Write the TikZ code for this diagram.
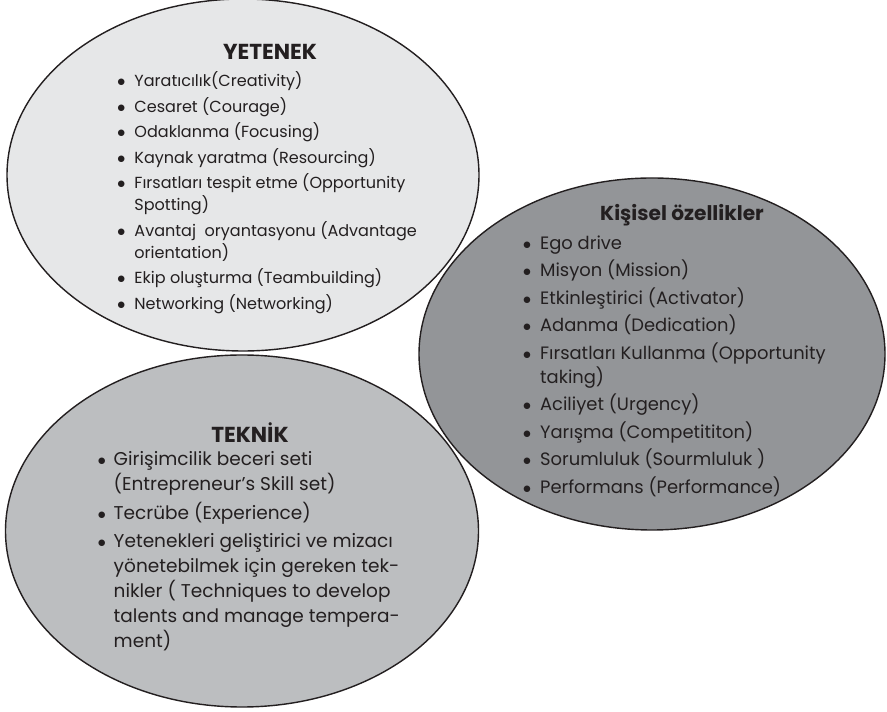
\documentclass[tikz,border=0pt]{standalone}
\usepackage{fontspec}
\setmainfont{Poppins}
\usetikzlibrary{shapes}
\definecolor{inkgray}{HTML}{231F20}
\definecolor{talentgray}{HTML}{E6E7E8}
\definecolor{techgray}{HTML}{BCBEC0}
\definecolor{traitgray}{HTML}{939598}

\begin{document}
\begin{tikzpicture}[font=\fontsize{13.7}{18.8}\selectfont, text=inkgray,
  blob/.style={ellipse, draw=inkgray, line width=1.2pt, inner sep=0pt, minimum width=14.16cm, minimum height=10.56cm},
  heading/.style={font=\fontsize{18.5}{20}\selectfont\bfseries},
  list/.style={anchor=north west, inner sep=0pt}]
\useasboundingbox (0,0) rectangle (26.61cm, 21.36cm);
%\fill[white] (0,0) rectangle (26.61cm, 21.36cm);
\node[blob, fill=talentgray] (talent) at (7.29cm, 16.11cm) {};
\node[blob, fill=traitgray, minimum width=13.98cm] (trait) at (19.56cm, 10.74cm) {};
\node[blob, fill=techgray, minimum width=14.19cm] (tech) at (7.26cm, 5.43cm) {};

\node[heading] (talenthead) at (8.1cm, 19.8cm) {YETENEK};
\node[list] (talentlist) at (3.51cm, 19.23cm) {\begin{tabular}{@{}l@{\hspace{7.5pt}}l@{}}
$\bullet$ & Yaratıcılık(Creativity)\\[3pt]
$\bullet$ & Cesaret (Courage)\\[3pt]
$\bullet$ & Odaklanma (Focusing)\\[3pt]
$\bullet$ & Kaynak yaratma (Resourcing)\\[3pt]
$\bullet$ & Fırsatları tespit etme (Opportunity\\
 & Spotting)\\[3pt]
$\bullet$ & Avantaj~ oryantasyonu (Advantage\\
 & orientation)\\[3pt]
$\bullet$ & Ekip oluşturma (Teambuilding)\\[3pt]
$\bullet$ & Networking (Networking)
\end{tabular}};

\node[heading, font=\fontsize{17.2}{20}\selectfont\bfseries] (traithead) at (20.46cm, 14.91cm) {Kişisel özellikler};
\node[list, font=\fontsize{15.3}{20.5}\selectfont] (traitlist) at (15.68cm, 14.4cm) {\begin{tabular}{@{}l@{\hspace{7.5pt}}l@{}}
$\bullet$ & Ego drive\\[3pt]
$\bullet$ & Misyon (Mission)\\[3pt]
$\bullet$ & Etkinleştirici (Activator)\\[3pt]
$\bullet$ & Adanma (Dedication)\\[3pt]
$\bullet$ & Fırsatları Kullanma (Opportunity\\
 & taking)\\[3pt]
$\bullet$ & Aciliyet (Urgency)\\[3pt]
$\bullet$ & Yarışma (Competititon)\\[3pt]
$\bullet$ & Sorumluluk (Sourmluluk )\\[3pt]
$\bullet$ & Performans (Performance)
\end{tabular}};

\node[heading] (techhead) at (7.5cm, 8.37cm) {TEKNİK};
\node[list, font=\fontsize{15.8}{21.3}\selectfont] (techlist) at (2.92cm, 7.92cm) {\begin{tabular}{@{}l@{\hspace{6.6pt}}l@{}}
$\bullet$ & Girişimcilik beceri seti\\
 & (Entrepreneur’s Skill set)\\[3pt]
$\bullet$ & Tecrübe (Experience)\\[3pt]
$\bullet$ & Yetenekleri geliştirici ve mizacı\\
 & yönetebilmek için gereken tek-\\
 & nikler ( Techniques to develop\\
 & talents and manage tempera-\\
 & ment)
\end{tabular}};

\end{tikzpicture}
\end{document}
